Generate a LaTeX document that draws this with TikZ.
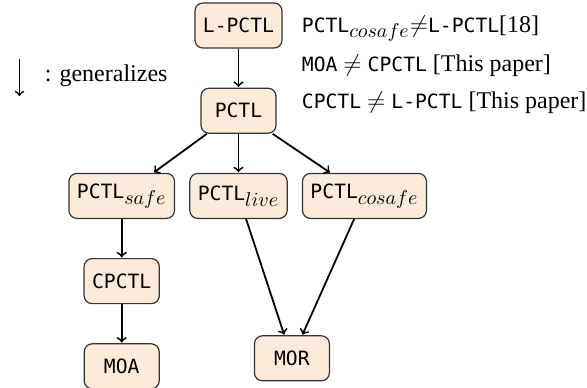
\documentclass[tikz,border=0pt]{standalone}
\usepackage{fontspec}
\setmainfont{Liberation Serif}
\setmonofont{DejaVu Sans Mono}[Scale=0.82]
\DeclareMathSizes{12}{12}{9.75}{7}
\usepackage{tikz}
\usetikzlibrary{
  arrows,
  chains,
  matrix,
  positioning,
  scopes
}
\definecolor{boxfill}{RGB}{253,235,217}

\begin{document}
\begin{tikzpicture}[
      logic/.style={
         rectangle,
         rounded corners=4pt,
         minimum width=37.5pt,
         minimum height=22.5pt,
         inner xsep=4pt,
         line width=0.6pt,
         draw=black!80,
         fill=boxfill,
         font=\fontsize{12}{14}\selectfont\ttfamily
      },
      note/.style={inner sep=0pt, anchor=base west},
      >=to,line width=0.9pt,
      gen tip/.style={->,shorten >=0.3pt},
      font=\fontsize{12}{14}\selectfont
    ]
    \matrix[column sep=7.05pt, row sep=19.5pt] {
 & \node (n12) [logic] {L-PCTL}; \\
 & \node (n22) [logic] {PCTL}; \\
\node (n31) [logic] {PCTL$_{safe}$}; &[4.75pt] \node (n32) [logic] {PCTL$_{live}$}; & \node (n33) [logic] {PCTL$_{cosafe}$}; \\
\node (n41) [logic] {CPCTL}; \\
\node (n51) [logic] {MOA}; \\
    };
    \node (mor) [logic, right=47pt of n51, yshift=4pt] {MOR};
    % results on the right
    \node (eq1) [note] at ([xshift=31.25pt, yshift=-3.25pt]n12.center)
       {\texttt{PCTL}$_{cosafe}$$\neq$\texttt{L-PCTL}[18]};
    \node (eq2) [note] at ([yshift=-19.75pt]eq1.base west)
       {\texttt{MOA} $\neq$ \texttt{CPCTL} [This paper]};
    \node (eq3) [note] at ([yshift=-18.25pt]eq2.base west)
       {\texttt{CPCTL} $\neq$ \texttt{L-PCTL} [This paper]};
    % legend
    \node (legend) [note] at ([xshift=-97.25pt, yshift=-27.75pt]n12.center) {: generalizes};
    \coordinate (legtop) at ([xshift=-12.25pt, yshift=11pt]legend.base west);
    \coordinate (legbot) at ([xshift=-12.25pt, yshift=-7.5pt]legend.base west);
    \draw [-{to[scale=1.4]}, line width=0.8pt] (legtop) -- (legbot);
  { [start chain]
       \chainin (n12);
       \chainin (n22)    [join=by gen tip];
  }
  { [start chain]
       \chainin (n22);
       \chainin (n31)    [join=by gen tip];
  }
  { [start chain]
       \chainin (n22);
       \chainin (n32)    [join=by gen tip];
  }
  { [start chain]
       \chainin (n22);
       \chainin (n33)    [join=by gen tip];
  }
  { [start chain]
       \chainin (n31);
       \chainin (n41)    [join=by gen tip];
  }
  { [start chain]
       \chainin (n41);
       \chainin (n51)    [join=by gen tip];
  }
  { [start chain]
       \chainin (n32);
       \chainin (mor)    [join=by gen tip];
  }
  { [start chain]
       \chainin (n33);
       \chainin (mor)    [join=by gen tip];
  }
    \pgfresetboundingbox
    \useasboundingbox ([xshift=-119.25pt, yshift=12.75pt]n12.center) rectangle ++(293.5pt,-193.5pt);
\end{tikzpicture}
\end{document}
